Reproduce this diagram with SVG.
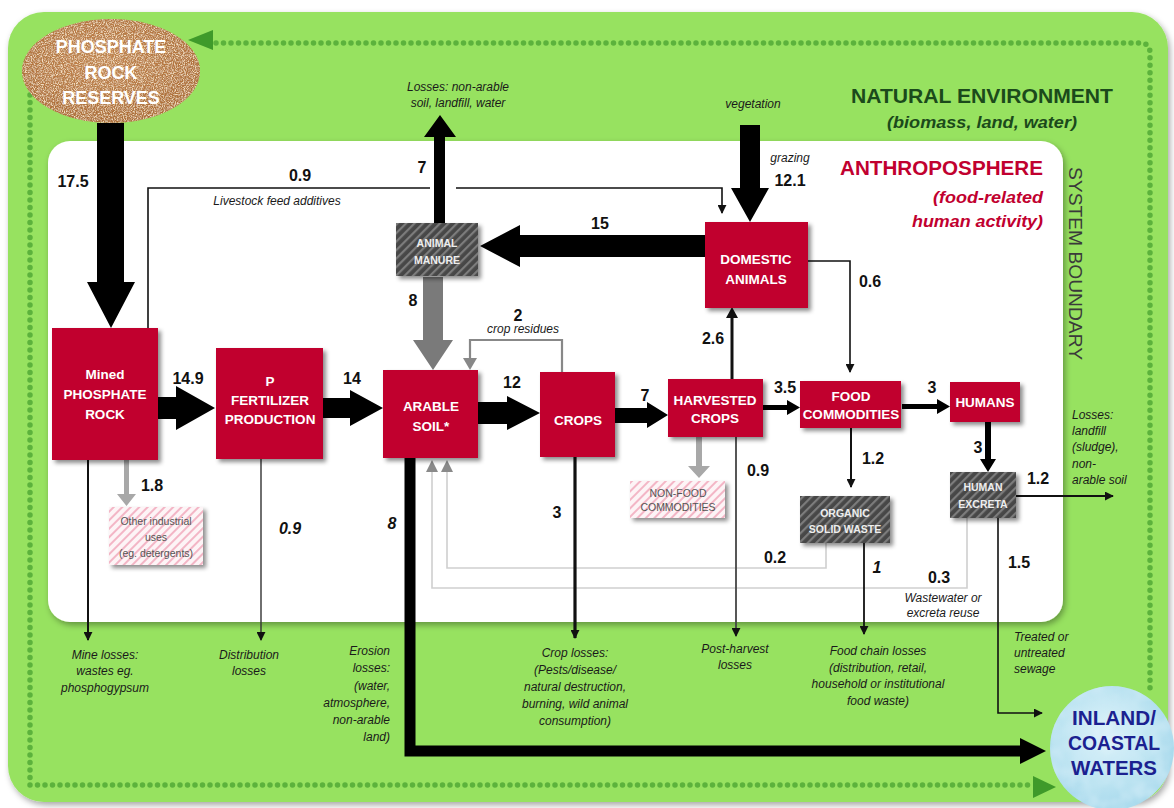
<svg xmlns="http://www.w3.org/2000/svg" width="1174" height="808" viewBox="0 0 1174 808">
<defs>
<style>
.b{font-family:"Liberation Sans",Arial,sans-serif;font-weight:bold}
.n{font-family:"Liberation Sans",Arial,sans-serif;font-weight:bold;font-size:16px;fill:#111}
.ni{font-family:"Liberation Sans",Arial,sans-serif;font-weight:bold;font-style:italic;font-size:16px;fill:#111}
.it{font-family:"Liberation Sans",Arial,sans-serif;font-style:italic;font-size:12px;fill:#1a1a1a}
.nl{font-family:"Liberation Sans",Arial,sans-serif;font-weight:bold;font-size:13.5px;fill:#fff;text-anchor:middle}
.sl{font-family:"Liberation Sans",Arial,sans-serif;font-weight:bold;font-size:10.5px;fill:#eee;text-anchor:middle}
.gl{font-family:"Liberation Sans",Arial,sans-serif;font-size:10.5px;fill:#555;text-anchor:middle}
.red{fill:#c1002f}
.thin{fill:none;stroke:#111;stroke-width:1.6}
.dots{fill:none;stroke:#5cb23c;stroke-width:5.5;stroke-linecap:round;stroke-dasharray:0 7.5}
.grayl{fill:none;stroke:#cfcfcf;stroke-width:1.6}
</style>
<filter id="sh" x="-20%" y="-20%" width="150%" height="150%">
<feDropShadow dx="3" dy="3" stdDeviation="2" flood-color="#000" flood-opacity="0.45"/>
</filter>
<filter id="sh2" x="-10%" y="-10%" width="130%" height="130%">
<feDropShadow dx="2" dy="3" stdDeviation="3" flood-color="#000" flood-opacity="0.35"/>
</filter>
<filter id="cork" x="0" y="0" width="100%" height="100%">
<feTurbulence type="fractalNoise" baseFrequency="0.9" numOctaves="2" seed="3" result="t"/>
<feColorMatrix in="t" type="matrix" values="0 0 0 0 0.93  0 0 0 0 0.76  0 0 0 0 0.55  -3 0 0 0 1.75" result="c"/>
<feComposite in="c" in2="SourceGraphic" operator="in" result="cc"/>
<feTurbulence type="fractalNoise" baseFrequency="0.7" numOctaves="1" seed="9" result="t2"/>
<feColorMatrix in="t2" type="matrix" values="0 0 0 0 0.45  0 0 0 0 0.25  0 0 0 0 0.1  0 -3 0 0 1.6" result="d"/>
<feComposite in="d" in2="SourceGraphic" operator="in" result="dd"/>
<feMerge><feMergeNode in="SourceGraphic"/><feMergeNode in="cc"/><feMergeNode in="dd"/></feMerge>
</filter>
<filter id="water" x="0" y="0" width="100%" height="100%">
<feTurbulence type="fractalNoise" baseFrequency="0.06" numOctaves="2" seed="7" result="t"/>
<feColorMatrix in="t" type="matrix" values="0 0 0 0 0.6  0 0 0 0 0.82  0 0 0 0 0.92  0 0 0 -1.5 1.0" result="c"/>
<feComposite in="c" in2="SourceGraphic" operator="in" result="cc"/>
<feMerge><feMergeNode in="SourceGraphic"/><feMergeNode in="cc"/></feMerge>
</filter>
<pattern id="hd" width="6" height="6" patternUnits="userSpaceOnUse" patternTransform="rotate(45)">
<rect width="6" height="6" fill="#474747"/>
<rect width="2.2" height="6" fill="#7c7c7c"/>
</pattern>
<pattern id="hp" width="6" height="6" patternUnits="userSpaceOnUse" patternTransform="rotate(45)">
<rect width="6" height="6" fill="#fdf4f6"/>
<rect width="2" height="6" fill="#f3b6c6"/>
</pattern>
<radialGradient id="rockg" cx="0.45" cy="0.4" r="0.6">
<stop offset="0" stop-color="#c58650"/>
<stop offset="1" stop-color="#ad6c36"/>
</radialGradient>
<radialGradient id="waterg" cx="0.45" cy="0.4" r="0.6">
<stop offset="0" stop-color="#e2f5fb"/>
<stop offset="1" stop-color="#a6d9ec"/>
</radialGradient>
<marker id="ak" viewBox="0 0 10 10" refX="9" refY="5" markerWidth="9" markerHeight="9" markerUnits="userSpaceOnUse" orient="auto">
<path d="M0,0 L10,5 L0,10 Z" fill="#111"/>
</marker>
</defs>

<!-- background -->
<rect width="1174" height="808" fill="#fff"/>
<rect x="8" y="12" width="1160" height="790" rx="36" fill="#97e260" filter="url(#sh2)"/>
<rect x="48" y="141" width="1015" height="481" rx="22" fill="#fff" filter="url(#sh2)"/>

<!-- system boundary dots -->
<g id="boundary">
<path class="dots" d="M216,43 L1140,43 Q1150,43 1150,53 L1150,693"/>
<path class="dots" d="M30,95 L30,785 L1030,785"/>
<polygon points="188,40 213,30 213,50" fill="#3f9a2a"/>
<polygon points="1056,787 1033,776 1033,798" fill="#3f9a2a"/>
</g>

<!-- environment labels -->
<g id="labels-env">
<text class="b" x="982" y="103" font-size="21" fill="#1b4a1b" text-anchor="middle" textLength="262" lengthAdjust="spacingAndGlyphs">NATURAL ENVIRONMENT</text>
<text class="b" x="982" y="128" font-size="17" font-style="italic" fill="#1b4a1b" text-anchor="middle" textLength="190" lengthAdjust="spacingAndGlyphs">(biomass, land, water)</text>
<text class="b" x="1043" y="175" font-size="21" fill="#c1002f" text-anchor="end" textLength="203" lengthAdjust="spacingAndGlyphs">ANTHROPOSPHERE</text>
<text class="b" x="1043" y="203" font-size="17" font-style="italic" fill="#c1002f" text-anchor="end" textLength="110" lengthAdjust="spacingAndGlyphs">(food-related</text>
<text class="b" x="1043" y="227" font-size="17" font-style="italic" fill="#c1002f" text-anchor="end" textLength="131" lengthAdjust="spacingAndGlyphs">human activity)</text>
<text transform="translate(1069,167) rotate(90)" font-family="Liberation Sans, Arial, sans-serif" font-size="18" fill="#3a3a3a" textLength="193" lengthAdjust="spacingAndGlyphs">SYSTEM BOUNDARY</text>
</g>

<!-- connectors -->
<g id="connectors">
<polyline class="grayl" points="826,543 826,568 447,568 447,472"/>
<polyline class="grayl" points="967,518 967,588 432,588 432,472"/>
<polygon points="441,472 447,460 453,472" fill="#8a8a8a"/>
<polygon points="426,472 432,460 438,472" fill="#8a8a8a"/>

<polyline class="thin" points="148,328 148,188 430,188"/>
<polyline class="thin" points="456,188 722,188 722,213" marker-end="url(#ak)"/>
<polyline class="thin" points="808,261 850,261 850,372" marker-end="url(#ak)"/>
<line x1="732" y1="379" x2="732" y2="317" stroke="#111" stroke-width="3"/>
<polygon points="726,318 732,307 738,318" fill="#111"/>
<line x1="851" y1="428" x2="851" y2="487" stroke="#111" stroke-width="2" marker-end="url(#ak)"/>
<line x1="864" y1="543" x2="864" y2="634" stroke="#111" stroke-width="1.8" marker-end="url(#ak)"/>
<line x1="736" y1="437" x2="736" y2="636" stroke="#444" stroke-width="1.8" marker-end="url(#ak)"/>
<line x1="575" y1="457" x2="575" y2="638" stroke="#111" stroke-width="3.2" marker-end="url(#ak)"/>
<line x1="88" y1="460" x2="88" y2="640" stroke="#111" stroke-width="2" marker-end="url(#ak)"/>
<line x1="261" y1="459" x2="261" y2="640" stroke="#333" stroke-width="1.4" marker-end="url(#ak)"/>
<line x1="1016" y1="496" x2="1113" y2="496" stroke="#111" stroke-width="1.8" marker-end="url(#ak)"/>
<polyline class="thin" points="998,518 998,713 1042,713" stroke-width="2" marker-end="url(#ak)"/>
<polyline points="562,372 562,340 470,340 470,360" fill="none" stroke="#888" stroke-width="2.2"/>
<polygon points="463,358 470,370 477,358" fill="#888"/>
<polyline points="410,458 410,751 1022,751" fill="none" stroke="#000" stroke-width="11"/>
<polygon points="1020,738 1046,751 1020,764" fill="#000"/>

<path d="M97,123 L124,123 L124,282 L135,282 L111,328 L87,282 L97,282 Z" fill="#000"/>
<path d="M158,397 L176,397 L176,386 L215,408 L176,430 L176,419 L158,419 Z" fill="#000"/>
<path d="M323,398 L350,398 L350,390 L383,408 L350,426 L350,418 L323,418 Z" fill="#000"/>
<path d="M478,402 L507,402 L507,396 L540,413 L507,430 L507,424 L478,424 Z" fill="#000"/>
<path d="M615,408 L647,408 L647,402 L668,415 L647,428 L647,423 L615,423 Z" fill="#000"/>
<path d="M763,405 L787,405 L787,400 L800,407.5 L787,415 L787,410 L763,410 Z" fill="#000"/>
<path d="M902,404 L937,404 L937,399 L950,406.5 L937,414 L937,409 L902,409 Z" fill="#000"/>
<path d="M985,422 L991,422 L991,459 L996,459 L988,472 L980,459 L985,459 Z" fill="#000"/>
<path d="M705,235 L520,235 L520,225 L480,246 L520,267 L520,257 L705,257 Z" fill="#000"/>
<path d="M434,223 L434,137 L424,137 L440,115 L456,137 L445,137 L445,223 Z" fill="#000"/>
<path d="M740,125 L760,125 L760,188 L769,188 L750,222 L731,188 L740,188 Z" fill="#000"/>
<path d="M423,277 L443,277 L443,340 L453,340 L433,370 L413,340 L423,340 Z" fill="#7a7a7a"/>
<path d="M124,460 L129,460 L129,494 L136,494 L126.5,506 L117,494 L124,494 Z" fill="#a8a8a8"/>
<path d="M696,437 L702,437 L702,466 L710,466 L699,478 L688,466 L696,466 Z" fill="#a8a8a8"/>
</g>

<!-- flow labels -->
<g id="flow-labels">
<text class="n" x="73" y="187" text-anchor="middle">17.5</text>
<text class="n" x="300" y="181" text-anchor="middle">0.9</text>
<text class="it" x="277" y="205" text-anchor="middle">Livestock feed additives</text>
<text class="n" x="422" y="173" text-anchor="middle">7</text>
<text class="it" x="458" y="91" text-anchor="middle">Losses: non-arable</text>
<text class="it" x="458" y="107" text-anchor="middle">soil, landfill, water</text>
<text class="n" x="600" y="229" text-anchor="middle">15</text>
<text class="n" x="413" y="306" text-anchor="middle">8</text>
<text class="n" x="518" y="321" text-anchor="middle">2</text>
<text class="it" x="523" y="333" text-anchor="middle" font-size="11" fill="#2f4f2f">crop residues</text>
<text class="it" x="753" y="108" text-anchor="middle">vegetation</text>
<text class="it" x="790" y="162" text-anchor="middle" font-size="10" fill="#444">grazing</text>
<text class="n" x="790" y="186" text-anchor="middle" font-size="17">12.1</text>
<text class="n" x="870" y="287" text-anchor="middle">0.6</text>
<text class="n" x="713" y="344" text-anchor="middle">2.6</text>
<text class="n" x="188" y="384" text-anchor="middle">14.9</text>
<text class="n" x="352" y="384" text-anchor="middle">14</text>
<text class="n" x="512" y="388" text-anchor="middle">12</text>
<text class="n" x="645" y="401" text-anchor="middle">7</text>
<text class="n" x="785" y="393" text-anchor="middle">3.5</text>
<text class="n" x="932" y="393" text-anchor="middle">3</text>
<text class="n" x="978" y="453" text-anchor="middle">3</text>
<text class="n" x="873" y="464" text-anchor="middle">1.2</text>
<text class="n" x="758" y="476" text-anchor="middle">0.9</text>
<text class="n" x="1038" y="484" text-anchor="middle">1.2</text>
<text class="n" x="152" y="491" text-anchor="middle">1.8</text>
<text class="ni" x="290" y="534" text-anchor="middle">0.9</text>
<text class="ni" x="392" y="529" text-anchor="middle">8</text>
<text class="n" x="557" y="518" text-anchor="middle">3</text>
<text class="n" x="775" y="563" text-anchor="middle">0.2</text>
<text class="ni" x="877" y="573" text-anchor="middle">1</text>
<text class="n" x="939" y="583" text-anchor="middle">0.3</text>
<text class="n" x="1019" y="568" text-anchor="middle">1.5</text>
<text class="it" x="943" y="602" text-anchor="middle" font-size="11">Wastewater or</text>
<text class="it" x="943" y="617" text-anchor="middle" font-size="11">excreta reuse</text>
<text class="it" x="1072" y="419">Losses:</text>
<text class="it" x="1072" y="435">landfill</text>
<text class="it" x="1072" y="451">(sludge),</text>
<text class="it" x="1072" y="468">non-</text>
<text class="it" x="1072" y="484">arable soil</text>
<text class="it" x="1014" y="641">Treated or</text>
<text class="it" x="1014" y="657">untreated</text>
<text class="it" x="1014" y="673">sewage</text>
<text class="it" x="105" y="659" text-anchor="middle">Mine losses:</text>
<text class="it" x="105" y="675" text-anchor="middle">wastes eg.</text>
<text class="it" x="105" y="692" text-anchor="middle">phosphogypsum</text>
<text class="it" x="249" y="659" text-anchor="middle">Distribution</text>
<text class="it" x="249" y="675" text-anchor="middle">losses</text>
<text class="it" x="390" y="655" text-anchor="end">Erosion</text>
<text class="it" x="390" y="672" text-anchor="end">losses:</text>
<text class="it" x="390" y="690" text-anchor="end">(water,</text>
<text class="it" x="390" y="707" text-anchor="end">atmosphere,</text>
<text class="it" x="390" y="724" text-anchor="end">non-arable</text>
<text class="it" x="390" y="741" text-anchor="end">land)</text>
<text class="it" x="575" y="657" text-anchor="middle">Crop losses:</text>
<text class="it" x="575" y="674" text-anchor="middle">(Pests/disease/</text>
<text class="it" x="575" y="691" text-anchor="middle">natural destruction,</text>
<text class="it" x="575" y="708" text-anchor="middle">burning, wild animal</text>
<text class="it" x="575" y="725" text-anchor="middle">consumption)</text>
<text class="it" x="735" y="653" text-anchor="middle">Post-harvest</text>
<text class="it" x="735" y="669" text-anchor="middle">losses</text>
<text class="it" x="878" y="655" text-anchor="middle">Food chain losses</text>
<text class="it" x="878" y="672" text-anchor="middle">(distribution, retail,</text>
<text class="it" x="878" y="688" text-anchor="middle">household or institutional</text>
<text class="it" x="878" y="705" text-anchor="middle">food waste)</text>
</g>

<!-- nodes -->
<g id="phosphate-rock-reserves">
<ellipse cx="111" cy="71" rx="89" ry="52" fill="url(#rockg)" filter="url(#cork)"/>
<text class="b" x="111" y="53" font-size="18" fill="#fff" text-anchor="middle">PHOSPHATE</text>
<text class="b" x="111" y="79" font-size="18" fill="#fff" text-anchor="middle">ROCK</text>
<text class="b" x="111" y="104" font-size="18" fill="#fff" text-anchor="middle">RESERVES</text>
</g>
<g id="mined-phosphate-rock">
<rect class="red" x="52" y="328" width="106" height="132" filter="url(#sh)"/>
<text class="nl" x="105" y="379">Mined</text>
<text class="nl" x="105" y="399">PHOSPHATE</text>
<text class="nl" x="105" y="419">ROCK</text>
</g>
<g id="p-fertilizer-production">
<rect class="red" x="216" y="348" width="107" height="111" filter="url(#sh)"/>
<text class="nl" x="270" y="386">P</text>
<text class="nl" x="270" y="405">FERTILIZER</text>
<text class="nl" x="270" y="424">PRODUCTION</text>
</g>
<g id="arable-soil">
<rect class="red" x="383" y="370" width="95" height="88" filter="url(#sh)"/>
<text class="nl" x="431" y="411">ARABLE</text>
<text class="nl" x="431" y="431">SOIL*</text>
</g>
<g id="crops">
<rect class="red" x="540" y="372" width="75" height="85" filter="url(#sh)"/>
<text class="nl" x="578" y="425">CROPS</text>
</g>
<g id="harvested-crops">
<rect class="red" x="668" y="379" width="95" height="58" filter="url(#sh)"/>
<text class="nl" x="715" y="405">HARVESTED</text>
<text class="nl" x="715" y="423">CROPS</text>
</g>
<g id="domestic-animals">
<rect class="red" x="705" y="222" width="103" height="86" filter="url(#sh)"/>
<text class="nl" x="756" y="264">DOMESTIC</text>
<text class="nl" x="756" y="284">ANIMALS</text>
</g>
<g id="food-commodities">
<rect class="red" x="800" y="381" width="101" height="47" filter="url(#sh)"/>
<text class="nl" x="851" y="401" font-size="13">FOOD</text>
<text class="nl" x="851" y="419" font-size="13">COMMODITIES</text>
</g>
<g id="humans">
<rect class="red" x="950" y="382" width="70" height="40" filter="url(#sh)"/>
<text class="nl" x="985" y="407" font-size="13">HUMANS</text>
</g>
<g id="animal-manure">
<rect x="396" y="223" width="82" height="53" fill="url(#hd)" filter="url(#sh)"/>
<text class="sl" x="437" y="247">ANIMAL</text>
<text class="sl" x="437" y="264">MANURE</text>
</g>
<g id="organic-solid-waste">
<rect x="800" y="496" width="90" height="47" fill="url(#hd)" filter="url(#sh)"/>
<text class="sl" x="845" y="517" font-size="11">ORGANIC</text>
<text class="sl" x="845" y="533" font-size="11">SOLID WASTE</text>
</g>
<g id="human-excreta">
<rect x="950" y="472" width="66" height="46" fill="url(#hd)" filter="url(#sh)"/>
<text class="sl" x="983" y="491" font-size="11">HUMAN</text>
<text class="sl" x="983" y="508" font-size="11">EXCRETA</text>
</g>
<g id="other-industrial-uses">
<rect x="109" y="507" width="94" height="58" fill="url(#hp)" filter="url(#sh)"/>
<text class="gl" x="156" y="525">Other industrial</text>
<text class="gl" x="156" y="541">uses</text>
<text class="gl" x="156" y="557">(eg. detergents)</text>
</g>
<g id="non-food-commodities">
<rect x="630" y="481" width="95" height="37" fill="url(#hp)" filter="url(#sh)"/>
<text class="gl" x="678" y="497" font-size="10">NON-FOOD</text>
<text class="gl" x="678" y="511" font-size="10">COMMODITIES</text>
</g>
<g id="inland-coastal-waters">
<circle cx="1112" cy="748" r="62" fill="url(#waterg)" filter="url(#water)"/>
<text class="b" x="1114" y="725" font-size="20" fill="#1b2190" text-anchor="middle" textLength="84" lengthAdjust="spacingAndGlyphs">INLAND/</text>
<text class="b" x="1114" y="750" font-size="20" fill="#1b2190" text-anchor="middle" textLength="92" lengthAdjust="spacingAndGlyphs">COASTAL</text>
<text class="b" x="1114" y="775" font-size="20" fill="#1b2190" text-anchor="middle" textLength="86" lengthAdjust="spacingAndGlyphs">WATERS</text>
</g>
</svg>
